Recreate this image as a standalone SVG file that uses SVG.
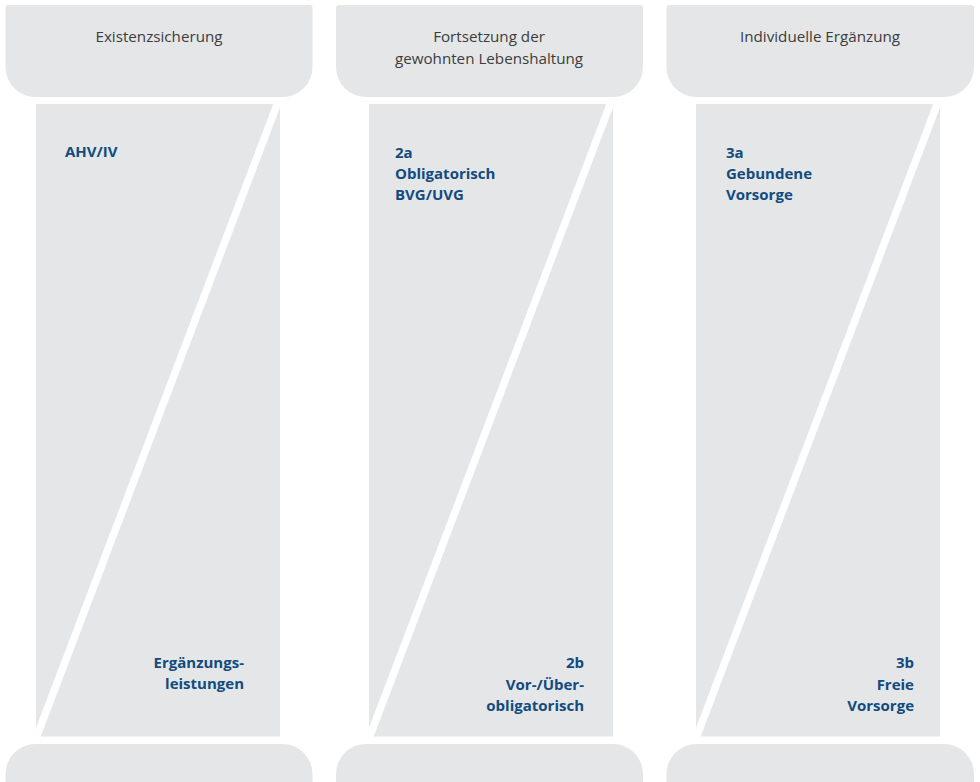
<svg xmlns="http://www.w3.org/2000/svg" width="980" height="782" viewBox="0 0 980 782">
  <style>
    .panel { fill: #e5e6e8; }
    .head { font-family: "Open Sans", "Liberation Sans", sans-serif; font-size: 15.2px; fill: #3c3c3c; text-anchor: middle; }
    .lbl { font-family: "Open Sans", "Liberation Sans", sans-serif; font-size: 15px; font-weight: 700; fill: #114b7f; }
    .end { text-anchor: end; }
  </style>
  <defs>
    <!-- pillar split by a slanted white gap into an upper and a lower part -->
    <g id="pillar">
      <polygon class="panel" points="0,104 237.3,104 0,727.8"/>
      <polygon class="panel" points="244,107.4 244,736.5 4.7,736.5"/>
    </g>
  </defs>

  <rect width="980" height="782" fill="#ffffff"/>

  <g id="pillar-1">
    <path class="panel" d="M8.5,5 H309.5 Q312.5,5 312.5,8 V67 A30,30 0 0 1 282.5,97 H35.5 A30,30 0 0 1 5.5,67 V8 Q5.5,5 8.5,5 Z"/>
    <text class="head" x="159" y="42">Existenzsicherung</text>
    <use href="#pillar" transform="translate(36,0)"/>
    <text class="lbl" x="65" y="157">AHV/IV</text>
    <text class="lbl end" x="244" y="668">Ergänzungs-</text>
    <text class="lbl end" x="244" y="689">leistungen</text>
    <path class="panel" d="M5.5,790 V774 A30,30 0 0 1 35.5,744 H282.5 A30,30 0 0 1 312.5,774 V790 Z"/>
  </g>

  <g id="pillar-2">
    <path class="panel" d="M339,5 H640 Q643,5 643,8 V67 A30,30 0 0 1 613,97 H366 A30,30 0 0 1 336,67 V8 Q336,5 339,5 Z"/>
    <text class="head" x="489" y="42">Fortsetzung der</text>
    <text class="head" x="489" y="63.5">gewohnten Lebenshaltung</text>
    <use href="#pillar" transform="translate(369,0)"/>
    <text class="lbl" x="395" y="157.5">2a</text>
    <text class="lbl" x="395" y="178.5">Obligatorisch</text>
    <text class="lbl" x="395" y="199.5">BVG/UVG</text>
    <text class="lbl end" x="584" y="668">2b</text>
    <text class="lbl end" x="584" y="689.5">Vor-/Über-</text>
    <text class="lbl end" x="584" y="711">obligatorisch</text>
    <path class="panel" d="M336,790 V774 A30,30 0 0 1 366,744 H613 A30,30 0 0 1 643,774 V790 Z"/>
  </g>

  <g id="pillar-3">
    <path class="panel" d="M669.5,5 H971 Q974,5 974,8 V67 A30,30 0 0 1 944,97 H696.5 A30,30 0 0 1 666.5,67 V8 Q666.5,5 669.5,5 Z"/>
    <text class="head" x="820" y="42">Individuelle Ergänzung</text>
    <use href="#pillar" transform="translate(696,0)"/>
    <text class="lbl" x="726" y="157.5">3a</text>
    <text class="lbl" x="726" y="178.5">Gebundene</text>
    <text class="lbl" x="726" y="199.5">Vorsorge</text>
    <text class="lbl end" x="914" y="668">3b</text>
    <text class="lbl end" x="914" y="689.5">Freie</text>
    <text class="lbl end" x="914" y="711">Vorsorge</text>
    <path class="panel" d="M666.5,790 V774 A30,30 0 0 1 696.5,744 H944 A30,30 0 0 1 974,774 V790 Z"/>
  </g>

  <!-- no connectors in this chart -->
  <g id="connectors"/>
</svg>
